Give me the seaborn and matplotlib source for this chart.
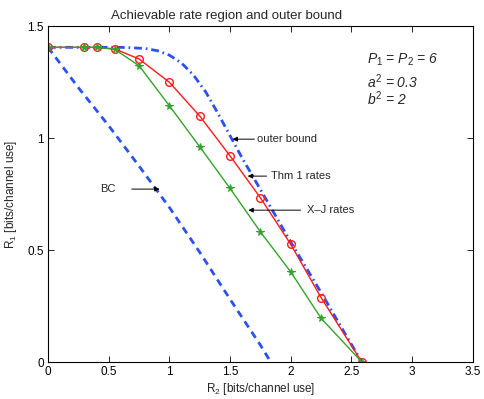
import numpy as np
import matplotlib
matplotlib.use("Agg")
from matplotlib import pyplot as plt
import seaborn as sns

# data
r2_pts = [0, 0.3, 0.4, 0.55, 0.75, 1.0, 1.25, 1.5, 1.75, 2.0, 2.25, 2.585]
thm1_r1 = [1.405, 1.405, 1.405, 1.398, 1.353, 1.249, 1.098, 0.920, 0.733, 0.525, 0.287, 0.0]
xj_r1 = [1.405, 1.405, 1.405, 1.396, 1.323, 1.144, 0.961, 0.775, 0.581, 0.402, 0.195, 0.0]

outer_r2 = [0, 0.6, 0.8, 0.9, 1.0, 1.1, 1.2, 1.3, 1.4, 1.5, 1.6, 1.75, 2.0, 2.25, 2.4, 2.585]
outer_r1 = [1.405, 1.405, 1.40, 1.39, 1.37, 1.335, 1.28, 1.205, 1.11, 1.01, 0.91, 0.77, 0.535, 0.31, 0.17, 0.0]

bc_r2 = [0, 0.25, 0.5, 0.75, 1.0, 1.25, 1.5, 1.75, 1.835]
bc_r1 = [1.405, 1.225, 1.055, 0.875, 0.69, 0.49, 0.28, 0.075, 0.0]

xticks = [0, 0.5, 1, 1.5, 2, 2.5, 3, 3.5]
yticks = [0, 0.5, 1, 1.5]

sns.set_style("ticks")
plt.rcParams['font.family'] = ['Liberation Sans', 'DejaVu Sans']
plt.rcParams['mathtext.fontset'] = 'custom'
plt.rcParams['mathtext.rm'] = 'Liberation Sans'
plt.rcParams['mathtext.it'] = 'Liberation Sans:italic'

fig = plt.figure(figsize=(4.85, 3.99), dpi=100)
ax = fig.add_axes([0.099, 0.0927, 0.876, 0.842])

blue = "#2b50f5"
sns.lineplot(x=bc_r2, y=bc_r1, ax=ax, color=blue, lw=2, sort=False,
             linestyle=(0, (2.6, 1.9)))
sns.lineplot(x=outer_r2, y=outer_r1, ax=ax, color=blue, lw=2, sort=False,
             linestyle=(0, (2.8, 1.4, 0.6, 1.4)))
sns.lineplot(x=r2_pts, y=thm1_r1, ax=ax, color="#ff1a1a", lw=1, sort=False,
             marker='o', markersize=5.5, markerfacecolor='none',
             markeredgecolor="#ff1a1a", markeredgewidth=1)
sns.lineplot(x=r2_pts, y=xj_r1, ax=ax, color="#32a42c", lw=1, sort=False,
             marker='*', markersize=5.5, markeredgecolor="#32a42c")

ax.set_xlim(0, 3.5)
ax.set_ylim(0, 1.5)
ax.set_xticks(xticks)
ax.set_xticklabels([f"{t:g}" for t in xticks])
ax.set_yticks(yticks)
ax.set_yticklabels([f"{t:g}" for t in yticks])
ax.tick_params(direction='in', length=4, width=0.6, labelsize=8.5,
               top=True, right=True, colors='black', pad=3)
for s in ax.spines.values():
    s.set_visible(True)
    s.set_linewidth(0.8)
    s.set_color('black')

ax.set_title("Achievable rate region and outer bound", fontsize=9.5, pad=5, x=0.421)
ax.set_xlabel(r"R$_2$ [bits/channel use]", fontsize=8.5, labelpad=2)
ax.set_ylabel(r"R$_1$ [bits/channel use]", fontsize=8.5, labelpad=6)

arr = dict(arrowstyle='-|>', color='black', lw=0.7, mutation_scale=7,
           shrinkA=0, shrinkB=0)
ax.annotate('', xy=(1.52, 0.995), xytext=(1.70, 0.995), arrowprops=arr)
ax.text(1.72, 0.995, "outer bound", fontsize=8, va='center')
ax.annotate('', xy=(1.645, 0.83), xytext=(1.80, 0.83), arrowprops=arr)
ax.text(1.835, 0.83, "Thm 1 rates", fontsize=8, va='center')
ax.annotate('', xy=(1.65, 0.678), xytext=(2.08, 0.678), arrowprops=arr)
ax.text(2.13, 0.678, "X\u2013J rates", fontsize=8, va='center')
ax.annotate('', xy=(0.92, 0.772), xytext=(0.69, 0.772), arrowprops=arr)
ax.text(0.43, 0.772, "BC", fontsize=8, va='center')

ax.text(2.625, 1.35, r"$P_1$ = $P_2$ = 6", fontsize=10, va='center', style='italic')
ax.text(2.625, 1.25, r"$a^2$ = 0.3", fontsize=10, va='center', style='italic')
ax.text(2.625, 1.175, r"$b^2$ = 2", fontsize=10, va='center', style='italic')

fig.savefig("out.png", dpi=100)
